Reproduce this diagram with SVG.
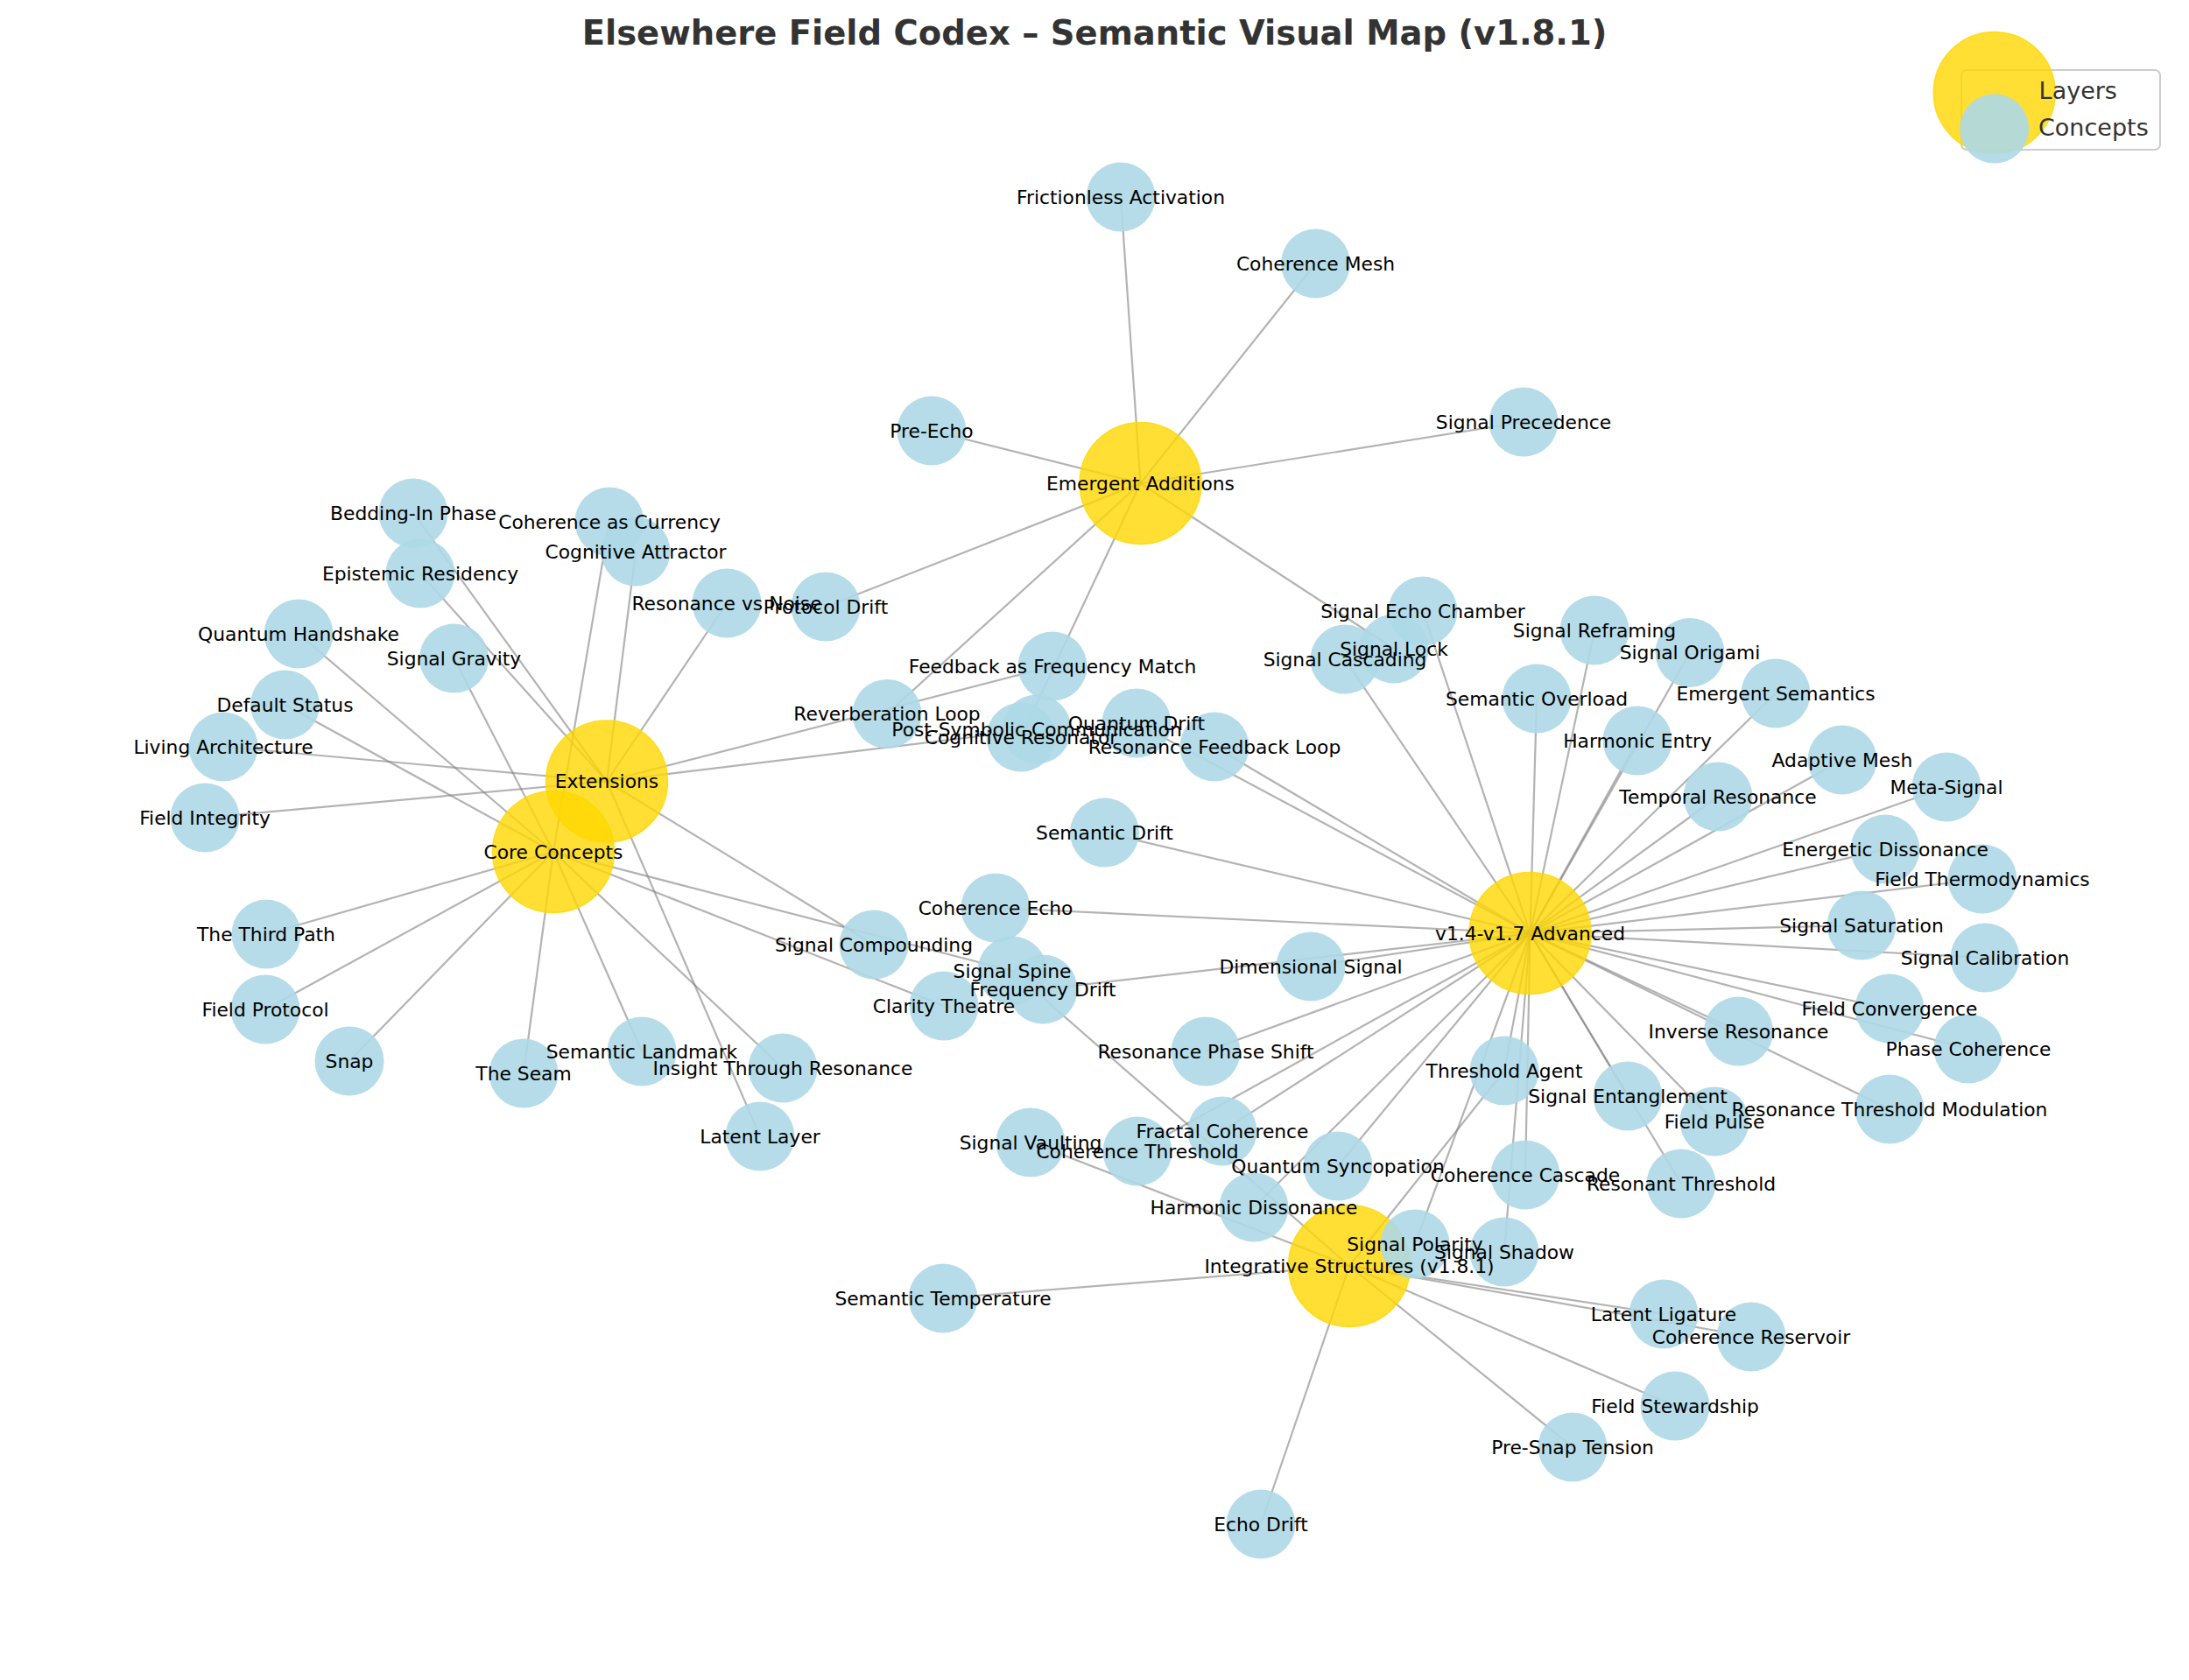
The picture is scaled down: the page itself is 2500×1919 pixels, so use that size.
<svg xmlns="http://www.w3.org/2000/svg" width="2500" height="1919" viewBox="0 0 2500 1919">
<style>
.edge{stroke:#808080;stroke-opacity:0.6;stroke-width:2.2;fill:none}
.layer circle{fill:#FFD700;fill-opacity:0.8;stroke:#FFD700;stroke-opacity:0.8;stroke-width:1.5}
.concept circle{fill:#ADD8E6;fill-opacity:0.9}
.lbl{font-family:"DejaVu Sans","Liberation Sans",sans-serif;font-size:21.8px;fill:#000;text-anchor:middle}
.title{font-family:"DejaVu Sans","Liberation Sans",sans-serif;font-size:38.5px;font-weight:bold;fill:#333;text-anchor:middle}
.leg{font-family:"DejaVu Sans","Liberation Sans",sans-serif;font-size:27px;fill:#333}
</style>
<rect width="2500" height="1919" fill="#fff"/>
<text class="title" x="1250" y="51">Elsewhere Field Codex – Semantic Visual Map (v1.8.1)</text>
<g id="connectors">
<line class="edge" x1="1302.5" y1="552" x2="1280" y2="225"/>
<line class="edge" x1="1302.5" y1="552" x2="1502.5" y2="301"/>
<line class="edge" x1="1302.5" y1="552" x2="1740" y2="482"/>
<line class="edge" x1="1302.5" y1="552" x2="1064" y2="492"/>
<line class="edge" x1="1302.5" y1="552" x2="943" y2="693"/>
<line class="edge" x1="1302.5" y1="552" x2="1013" y2="815.5"/>
<line class="edge" x1="1302.5" y1="552" x2="1166" y2="842"/>
<line class="edge" x1="1302.5" y1="552" x2="1592" y2="741"/>
<line class="edge" x1="693" y1="892.5" x2="472" y2="586"/>
<line class="edge" x1="693" y1="892.5" x2="480" y2="655"/>
<line class="edge" x1="693" y1="892.5" x2="726" y2="630"/>
<line class="edge" x1="693" y1="892.5" x2="830" y2="689"/>
<line class="edge" x1="693" y1="892.5" x2="255" y2="853"/>
<line class="edge" x1="693" y1="892.5" x2="234" y2="934"/>
<line class="edge" x1="693" y1="892.5" x2="1202" y2="761"/>
<line class="edge" x1="693" y1="892.5" x2="1184" y2="833"/>
<line class="edge" x1="693" y1="892.5" x2="998" y2="1079"/>
<line class="edge" x1="693" y1="892.5" x2="868" y2="1298"/>
<line class="edge" x1="632" y1="973" x2="696" y2="596"/>
<line class="edge" x1="632" y1="973" x2="518.5" y2="752"/>
<line class="edge" x1="632" y1="973" x2="341" y2="724"/>
<line class="edge" x1="632" y1="973" x2="325.5" y2="805"/>
<line class="edge" x1="632" y1="973" x2="304" y2="1067"/>
<line class="edge" x1="632" y1="973" x2="303" y2="1153"/>
<line class="edge" x1="632" y1="973" x2="399" y2="1212"/>
<line class="edge" x1="632" y1="973" x2="598" y2="1226"/>
<line class="edge" x1="632" y1="973" x2="733" y2="1201"/>
<line class="edge" x1="632" y1="973" x2="894" y2="1220"/>
<line class="edge" x1="632" y1="973" x2="1156" y2="1109"/>
<line class="edge" x1="632" y1="973" x2="1078" y2="1149"/>
<line class="edge" x1="1747.5" y1="1066" x2="1536" y2="753"/>
<line class="edge" x1="1747.5" y1="1066" x2="1625" y2="698"/>
<line class="edge" x1="1747.5" y1="1066" x2="1755" y2="798"/>
<line class="edge" x1="1747.5" y1="1066" x2="1821" y2="720"/>
<line class="edge" x1="1747.5" y1="1066" x2="1930" y2="745.5"/>
<line class="edge" x1="1747.5" y1="1066" x2="1870" y2="846"/>
<line class="edge" x1="1747.5" y1="1066" x2="2028" y2="792"/>
<line class="edge" x1="1747.5" y1="1066" x2="1962" y2="910"/>
<line class="edge" x1="1747.5" y1="1066" x2="2104" y2="868"/>
<line class="edge" x1="1747.5" y1="1066" x2="2223" y2="899"/>
<line class="edge" x1="1747.5" y1="1066" x2="2153" y2="970"/>
<line class="edge" x1="1747.5" y1="1066" x2="2264" y2="1004"/>
<line class="edge" x1="1747.5" y1="1066" x2="2126" y2="1057"/>
<line class="edge" x1="1747.5" y1="1066" x2="2267" y2="1094"/>
<line class="edge" x1="1747.5" y1="1066" x2="2158" y2="1152"/>
<line class="edge" x1="1747.5" y1="1066" x2="2248" y2="1198"/>
<line class="edge" x1="1747.5" y1="1066" x2="1985.5" y2="1178"/>
<line class="edge" x1="1747.5" y1="1066" x2="2158" y2="1267"/>
<line class="edge" x1="1747.5" y1="1066" x2="1958" y2="1281"/>
<line class="edge" x1="1747.5" y1="1066" x2="1920" y2="1352"/>
<line class="edge" x1="1747.5" y1="1066" x2="1859" y2="1252"/>
<line class="edge" x1="1747.5" y1="1066" x2="1718" y2="1223"/>
<line class="edge" x1="1747.5" y1="1066" x2="1742" y2="1342"/>
<line class="edge" x1="1747.5" y1="1066" x2="1718" y2="1430"/>
<line class="edge" x1="1747.5" y1="1066" x2="1616" y2="1421"/>
<line class="edge" x1="1747.5" y1="1066" x2="1528" y2="1332"/>
<line class="edge" x1="1747.5" y1="1066" x2="1432" y2="1379"/>
<line class="edge" x1="1747.5" y1="1066" x2="1396" y2="1292"/>
<line class="edge" x1="1747.5" y1="1066" x2="1299" y2="1315"/>
<line class="edge" x1="1747.5" y1="1066" x2="1377" y2="1201"/>
<line class="edge" x1="1747.5" y1="1066" x2="1497" y2="1104"/>
<line class="edge" x1="1747.5" y1="1066" x2="1191" y2="1130"/>
<line class="edge" x1="1747.5" y1="1066" x2="1137" y2="1037"/>
<line class="edge" x1="1747.5" y1="1066" x2="1261.5" y2="951"/>
<line class="edge" x1="1747.5" y1="1066" x2="1387" y2="853"/>
<line class="edge" x1="1747.5" y1="1066" x2="1298" y2="826"/>
<line class="edge" x1="1541" y1="1446" x2="1077" y2="1483"/>
<line class="edge" x1="1541" y1="1446" x2="1177" y2="1305"/>
<line class="edge" x1="1541" y1="1446" x2="1156" y2="1109"/>
<line class="edge" x1="1541" y1="1446" x2="1718" y2="1223"/>
<line class="edge" x1="1541" y1="1446" x2="1440" y2="1741"/>
<line class="edge" x1="1541" y1="1446" x2="1796" y2="1653"/>
<line class="edge" x1="1541" y1="1446" x2="1913" y2="1606"/>
<line class="edge" x1="1541" y1="1446" x2="1900" y2="1501"/>
<line class="edge" x1="1541" y1="1446" x2="2000" y2="1527"/>
</g>
<g id="nodes">
<g id="layer-emergent-additions" class="layer"><circle cx="1302.5" cy="552" r="69.5"/></g>
<g id="layer-extensions" class="layer"><circle cx="693" cy="892.5" r="69.5"/></g>
<g id="layer-core-concepts" class="layer"><circle cx="632" cy="973" r="69.5"/></g>
<g id="layer-advanced" class="layer"><circle cx="1747.5" cy="1066" r="69.5"/></g>
<g id="layer-integrative-structures" class="layer"><circle cx="1541" cy="1446" r="69.5"/></g>
<g id="n-frictionless-activation" class="concept"><circle cx="1280" cy="225" r="39.5"/></g>
<g id="n-pre-echo" class="concept"><circle cx="1064" cy="492" r="39.5"/></g>
<g id="n-coherence-mesh" class="concept"><circle cx="1502.5" cy="301" r="39.5"/></g>
<g id="n-signal-precedence" class="concept"><circle cx="1740" cy="482" r="39.5"/></g>
<g id="n-bedding-in-phase" class="concept"><circle cx="472" cy="586" r="39.5"/></g>
<g id="n-coherence-as-currency" class="concept"><circle cx="696" cy="596" r="39.5"/></g>
<g id="n-cognitive-attractor" class="concept"><circle cx="726" cy="630" r="39.5"/></g>
<g id="n-epistemic-residency" class="concept"><circle cx="480" cy="655" r="39.5"/></g>
<g id="n-quantum-handshake" class="concept"><circle cx="341" cy="724" r="39.5"/></g>
<g id="n-signal-gravity" class="concept"><circle cx="518.5" cy="752" r="39.5"/></g>
<g id="n-default-status" class="concept"><circle cx="325.5" cy="805" r="39.5"/></g>
<g id="n-living-architecture" class="concept"><circle cx="255" cy="853" r="39.5"/></g>
<g id="n-field-integrity" class="concept"><circle cx="234" cy="934" r="39.5"/></g>
<g id="n-the-third-path" class="concept"><circle cx="304" cy="1067" r="39.5"/></g>
<g id="n-field-protocol" class="concept"><circle cx="303" cy="1153" r="39.5"/></g>
<g id="n-snap" class="concept"><circle cx="399" cy="1212" r="39.5"/></g>
<g id="n-the-seam" class="concept"><circle cx="598" cy="1226" r="39.5"/></g>
<g id="n-semantic-landmark" class="concept"><circle cx="733" cy="1201" r="39.5"/></g>
<g id="n-insight-through-resonance" class="concept"><circle cx="894" cy="1220" r="39.5"/></g>
<g id="n-latent-layer" class="concept"><circle cx="868" cy="1298" r="39.5"/></g>
<g id="n-resonance-vs-noise" class="concept"><circle cx="830" cy="689" r="39.5"/></g>
<g id="n-protocol-drift" class="concept"><circle cx="943" cy="693" r="39.5"/></g>
<g id="n-feedback-as-frequency-match" class="concept"><circle cx="1202" cy="761" r="39.5"/></g>
<g id="n-reverberation-loop" class="concept"><circle cx="1013" cy="815.5" r="39.5"/></g>
<g id="n-post-symbolic-communication" class="concept"><circle cx="1184" cy="833" r="39.5"/></g>
<g id="n-cognitive-resonator" class="concept"><circle cx="1166" cy="842" r="39.5"/></g>
<g id="n-quantum-drift" class="concept"><circle cx="1298" cy="826" r="39.5"/></g>
<g id="n-resonance-feedback-loop" class="concept"><circle cx="1387" cy="853" r="39.5"/></g>
<g id="n-semantic-drift" class="concept"><circle cx="1261.5" cy="951" r="39.5"/></g>
<g id="n-coherence-echo" class="concept"><circle cx="1137" cy="1037" r="39.5"/></g>
<g id="n-signal-compounding" class="concept"><circle cx="998" cy="1079" r="39.5"/></g>
<g id="n-signal-spine" class="concept"><circle cx="1156" cy="1109" r="39.5"/></g>
<g id="n-frequency-drift" class="concept"><circle cx="1191" cy="1130" r="39.5"/></g>
<g id="n-clarity-theatre" class="concept"><circle cx="1078" cy="1149" r="39.5"/></g>
<g id="n-resonance-phase-shift" class="concept"><circle cx="1377" cy="1201" r="39.5"/></g>
<g id="n-signal-echo-chamber" class="concept"><circle cx="1625" cy="698" r="39.5"/></g>
<g id="n-signal-lock" class="concept"><circle cx="1592" cy="741" r="39.5"/></g>
<g id="n-signal-cascading" class="concept"><circle cx="1536" cy="753" r="39.5"/></g>
<g id="n-signal-reframing" class="concept"><circle cx="1821" cy="720" r="39.5"/></g>
<g id="n-signal-origami" class="concept"><circle cx="1930" cy="745.5" r="39.5"/></g>
<g id="n-semantic-overload" class="concept"><circle cx="1755" cy="798" r="39.5"/></g>
<g id="n-harmonic-entry" class="concept"><circle cx="1870" cy="846" r="39.5"/></g>
<g id="n-temporal-resonance" class="concept"><circle cx="1962" cy="910" r="39.5"/></g>
<g id="n-dimensional-signal" class="concept"><circle cx="1497" cy="1104" r="39.5"/></g>
<g id="n-threshold-agent" class="concept"><circle cx="1718" cy="1223" r="39.5"/></g>
<g id="n-signal-entanglement" class="concept"><circle cx="1859" cy="1252" r="39.5"/></g>
<g id="n-emergent-semantics" class="concept"><circle cx="2028" cy="792" r="39.5"/></g>
<g id="n-adaptive-mesh" class="concept"><circle cx="2104" cy="868" r="39.5"/></g>
<g id="n-meta-signal" class="concept"><circle cx="2223" cy="899" r="39.5"/></g>
<g id="n-energetic-dissonance" class="concept"><circle cx="2153" cy="970" r="39.5"/></g>
<g id="n-field-thermodynamics" class="concept"><circle cx="2264" cy="1004" r="39.5"/></g>
<g id="n-signal-saturation" class="concept"><circle cx="2126" cy="1057" r="39.5"/></g>
<g id="n-signal-calibration" class="concept"><circle cx="2267" cy="1094" r="39.5"/></g>
<g id="n-field-convergence" class="concept"><circle cx="2158" cy="1152" r="39.5"/></g>
<g id="n-inverse-resonance" class="concept"><circle cx="1985.5" cy="1178" r="39.5"/></g>
<g id="n-phase-coherence" class="concept"><circle cx="2248" cy="1198" r="39.5"/></g>
<g id="n-resonance-threshold-modulation" class="concept"><circle cx="2158" cy="1267" r="39.5"/></g>
<g id="n-field-pulse" class="concept"><circle cx="1958" cy="1281" r="39.5"/></g>
<g id="n-resonant-threshold" class="concept"><circle cx="1920" cy="1352" r="39.5"/></g>
<g id="n-coherence-reservoir" class="concept"><circle cx="2000" cy="1527" r="39.5"/></g>
<g id="n-latent-ligature" class="concept"><circle cx="1900" cy="1501" r="39.5"/></g>
<g id="n-field-stewardship" class="concept"><circle cx="1913" cy="1606" r="39.5"/></g>
<g id="n-pre-snap-tension" class="concept"><circle cx="1796" cy="1653" r="39.5"/></g>
<g id="n-echo-drift" class="concept"><circle cx="1440" cy="1741" r="39.5"/></g>
<g id="n-signal-polarity" class="concept"><circle cx="1616" cy="1421" r="39.5"/></g>
<g id="n-signal-shadow" class="concept"><circle cx="1718" cy="1430" r="39.5"/></g>
<g id="n-coherence-cascade" class="concept"><circle cx="1742" cy="1342" r="39.5"/></g>
<g id="n-quantum-syncopation" class="concept"><circle cx="1528" cy="1332" r="39.5"/></g>
<g id="n-harmonic-dissonance" class="concept"><circle cx="1432" cy="1379" r="39.5"/></g>
<g id="n-fractal-coherence" class="concept"><circle cx="1396" cy="1292" r="39.5"/></g>
<g id="n-coherence-threshold" class="concept"><circle cx="1299" cy="1315" r="39.5"/></g>
<g id="n-signal-vaulting" class="concept"><circle cx="1177" cy="1305" r="39.5"/></g>
<g id="n-semantic-temperature" class="concept"><circle cx="1077" cy="1483" r="39.5"/></g>
</g>
<g id="labels">
<text class="lbl" x="1302.5" y="559.5">Emergent Additions</text>
<text class="lbl" x="693" y="900">Extensions</text>
<text class="lbl" x="632" y="980.5">Core Concepts</text>
<text class="lbl" x="1747.5" y="1073.5">v1.4-v1.7 Advanced</text>
<text class="lbl" x="1541" y="1453.5">Integrative Structures (v1.8.1)</text>
<text class="lbl" x="1280" y="232.5">Frictionless Activation</text>
<text class="lbl" x="1064" y="499.5">Pre-Echo</text>
<text class="lbl" x="1502.5" y="308.5">Coherence Mesh</text>
<text class="lbl" x="1740" y="489.5">Signal Precedence</text>
<text class="lbl" x="472" y="593.5">Bedding-In Phase</text>
<text class="lbl" x="696" y="603.5">Coherence as Currency</text>
<text class="lbl" x="726" y="637.5">Cognitive Attractor</text>
<text class="lbl" x="480" y="662.5">Epistemic Residency</text>
<text class="lbl" x="341" y="731.5">Quantum Handshake</text>
<text class="lbl" x="518.5" y="759.5">Signal Gravity</text>
<text class="lbl" x="325.5" y="812.5">Default Status</text>
<text class="lbl" x="255" y="860.5">Living Architecture</text>
<text class="lbl" x="234" y="941.5">Field Integrity</text>
<text class="lbl" x="304" y="1074.5">The Third Path</text>
<text class="lbl" x="303" y="1160.5">Field Protocol</text>
<text class="lbl" x="399" y="1219.5">Snap</text>
<text class="lbl" x="598" y="1233.5">The Seam</text>
<text class="lbl" x="733" y="1208.5">Semantic Landmark</text>
<text class="lbl" x="894" y="1227.5">Insight Through Resonance</text>
<text class="lbl" x="868" y="1305.5">Latent Layer</text>
<text class="lbl" x="830" y="696.5">Resonance vs Noise</text>
<text class="lbl" x="943" y="700.5">Protocol Drift</text>
<text class="lbl" x="1202" y="768.5">Feedback as Frequency Match</text>
<text class="lbl" x="1013" y="823">Reverberation Loop</text>
<text class="lbl" x="1184" y="840.5">Post-Symbolic Communication</text>
<text class="lbl" x="1166" y="849.5">Cognitive Resonator</text>
<text class="lbl" x="1298" y="833.5">Quantum Drift</text>
<text class="lbl" x="1387" y="860.5">Resonance Feedback Loop</text>
<text class="lbl" x="1261.5" y="958.5">Semantic Drift</text>
<text class="lbl" x="1137" y="1044.5">Coherence Echo</text>
<text class="lbl" x="998" y="1086.5">Signal Compounding</text>
<text class="lbl" x="1156" y="1116.5">Signal Spine</text>
<text class="lbl" x="1191" y="1137.5">Frequency Drift</text>
<text class="lbl" x="1078" y="1156.5">Clarity Theatre</text>
<text class="lbl" x="1377" y="1208.5">Resonance Phase Shift</text>
<text class="lbl" x="1625" y="705.5">Signal Echo Chamber</text>
<text class="lbl" x="1592" y="748.5">Signal Lock</text>
<text class="lbl" x="1536" y="760.5">Signal Cascading</text>
<text class="lbl" x="1821" y="727.5">Signal Reframing</text>
<text class="lbl" x="1930" y="753">Signal Origami</text>
<text class="lbl" x="1755" y="805.5">Semantic Overload</text>
<text class="lbl" x="1870" y="853.5">Harmonic Entry</text>
<text class="lbl" x="1962" y="917.5">Temporal Resonance</text>
<text class="lbl" x="1497" y="1111.5">Dimensional Signal</text>
<text class="lbl" x="1718" y="1230.5">Threshold Agent</text>
<text class="lbl" x="1859" y="1259.5">Signal Entanglement</text>
<text class="lbl" x="2028" y="799.5">Emergent Semantics</text>
<text class="lbl" x="2104" y="875.5">Adaptive Mesh</text>
<text class="lbl" x="2223" y="906.5">Meta-Signal</text>
<text class="lbl" x="2153" y="977.5">Energetic Dissonance</text>
<text class="lbl" x="2264" y="1011.5">Field Thermodynamics</text>
<text class="lbl" x="2126" y="1064.5">Signal Saturation</text>
<text class="lbl" x="2267" y="1101.5">Signal Calibration</text>
<text class="lbl" x="2158" y="1159.5">Field Convergence</text>
<text class="lbl" x="1985.5" y="1185.5">Inverse Resonance</text>
<text class="lbl" x="2248" y="1205.5">Phase Coherence</text>
<text class="lbl" x="2158" y="1274.5">Resonance Threshold Modulation</text>
<text class="lbl" x="1958" y="1288.5">Field Pulse</text>
<text class="lbl" x="1920" y="1359.5">Resonant Threshold</text>
<text class="lbl" x="2000" y="1534.5">Coherence Reservoir</text>
<text class="lbl" x="1900" y="1508.5">Latent Ligature</text>
<text class="lbl" x="1913" y="1613.5">Field Stewardship</text>
<text class="lbl" x="1796" y="1660.5">Pre-Snap Tension</text>
<text class="lbl" x="1440" y="1748.5">Echo Drift</text>
<text class="lbl" x="1616" y="1428.5">Signal Polarity</text>
<text class="lbl" x="1718" y="1437.5">Signal Shadow</text>
<text class="lbl" x="1742" y="1349.5">Coherence Cascade</text>
<text class="lbl" x="1528" y="1339.5">Quantum Syncopation</text>
<text class="lbl" x="1432" y="1386.5">Harmonic Dissonance</text>
<text class="lbl" x="1396" y="1299.5">Fractal Coherence</text>
<text class="lbl" x="1299" y="1322.5">Coherence Threshold</text>
<text class="lbl" x="1177" y="1312.5">Signal Vaulting</text>
<text class="lbl" x="1077" y="1490.5">Semantic Temperature</text>
</g>
<g id="legend">
<rect x="2240" y="80" width="227" height="91" rx="6" fill="#fff" fill-opacity="0.8" stroke="#cccccc" stroke-width="2"/>
<g class="layer"><circle cx="2277.7" cy="106" r="69.5"/></g>
<g class="concept"><circle cx="2277.7" cy="147" r="39.5"/></g>
<text class="leg" x="2328.6" y="113">Layers</text>
<text class="leg" x="2328" y="154.5">Concepts</text>
</g>
</svg>
